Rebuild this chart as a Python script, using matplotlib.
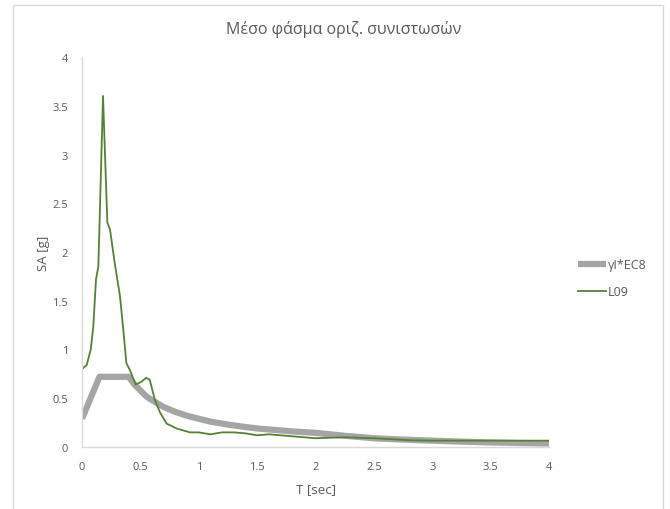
#!/usr/bin/env python3

import matplotlib
matplotlib.use("Agg")
import matplotlib.pyplot as plt
from matplotlib.patches import Rectangle

# ==========================
# DATA
# ==========================
t_ec8 = [0.0, 0.15, 0.40, 0.45, 0.50, 0.55, 0.60, 0.70, 0.80, 0.90, 1.00,
         1.10, 1.20, 1.25, 1.40, 1.50, 1.60, 1.75, 1.80, 2.00, 2.25, 2.50,
         2.75, 3.00, 3.25, 3.50, 3.75, 4.00]
sa_ec8 = [0.29, 0.72, 0.72, 0.64, 0.58, 0.52, 0.48, 0.41, 0.36, 0.32, 0.29,
          0.26, 0.24, 0.23, 0.205, 0.19, 0.18, 0.165, 0.16, 0.145, 0.115, 0.09,
          0.076, 0.065, 0.055, 0.047, 0.041, 0.036]

t_l09 = [0.0, 0.04, 0.075, 0.097, 0.12, 0.14, 0.18, 0.217, 0.24, 0.28,
         0.325, 0.354, 0.38, 0.41, 0.46, 0.51, 0.55, 0.58, 0.625, 0.67,
         0.725, 0.81, 0.925, 1.0, 1.1, 1.2, 1.3, 1.4, 1.5, 1.6, 1.8, 2.0,
         2.25, 2.5, 2.8, 3.0, 3.5, 4.0]
sa_l09 = [0.80, 0.84, 1.00, 1.24, 1.72, 1.85, 3.60, 2.30, 2.23, 1.89,
          1.55, 1.20, 0.86, 0.79, 0.64, 0.67, 0.71, 0.69, 0.48, 0.35,
          0.24, 0.19, 0.15, 0.15, 0.13, 0.15, 0.15, 0.14, 0.12, 0.13, 0.11, 0.09,
          0.10, 0.09, 0.07, 0.065, 0.065, 0.065]

x_ticks = [0, 0.5, 1, 1.5, 2, 2.5, 3, 3.5, 4]
x_tick_labels = ["0", "0.5", "1", "1.5", "2", "2.5", "3", "3.5", "4"]
y_ticks = [0, 0.5, 1, 1.5, 2, 2.5, 3, 3.5, 4]
y_tick_labels = ["0", "0.5", "1", "1.5", "2", "2.5", "3", "3.5", "4"]

TITLE = "Μέσο φάσμα οριζ. συνιστωσών"
X_LABEL = "T [sec]"
Y_LABEL = "SA [g]"

# ==========================
# STYLE
# ==========================
plt.rcParams["font.family"] = ["Open Sans", "DejaVu Sans"]
TEXT_COLOR = "#595959"
AXIS_COLOR = "#D9D9D9"
GRAY = "#A5A5A5"
GREEN = "#548235"

fig = plt.figure(figsize=(6.7, 5.1), dpi=100)
ax = fig.add_axes([82 / 670, 1 - 448 / 510, 467 / 670, 390 / 510])

ax.plot(t_ec8, sa_ec8, color=GRAY, linewidth=4.5, solid_capstyle="butt",
        label="γI*EC8")
ax.plot(t_l09, sa_l09, color=GREEN, linewidth=1.3, label="L09")

ax.set_xlim(0, 4)
ax.set_ylim(0, 4)
ax.set_xticks(x_ticks)
ax.set_xticklabels(x_tick_labels)
ax.set_yticks(y_ticks)
ax.set_yticklabels(y_tick_labels)
ax.tick_params(axis="x", length=0, labelsize=8, colors=TEXT_COLOR, pad=10)
ax.tick_params(axis="y", length=0, labelsize=8, colors=TEXT_COLOR, pad=10)

for side in ["top", "right"]:
    ax.spines[side].set_visible(False)
for side in ["left", "bottom"]:
    ax.spines[side].set_color(AXIS_COLOR)
    ax.spines[side].set_linewidth(1.0)

ax.set_xlabel(X_LABEL, fontsize=9.5, color=TEXT_COLOR, labelpad=7)
ax.set_ylabel(Y_LABEL, fontsize=9.5, color=TEXT_COLOR, labelpad=2)

fig.text(344 / 670, 1 - 30 / 510, TITLE, ha="center", va="center",
         fontsize=11.5, color=TEXT_COLOR)

# legend on the right
fig.legend(loc="center left", bbox_to_anchor=(567 / 670, 1 - 279 / 510),
           frameon=False, fontsize=9, labelcolor=TEXT_COLOR,
           handlelength=2.2, handletextpad=0.15, labelspacing=1.1)

# chart frame
fig.patches.append(Rectangle((13 / 670, -0.05), 650 / 670, 1.05 - 6 / 510,
                             transform=fig.transFigure, fill=False,
                             edgecolor=AXIS_COLOR, linewidth=1.0))

fig.savefig("out.png", dpi=100)
plt.close(fig)
